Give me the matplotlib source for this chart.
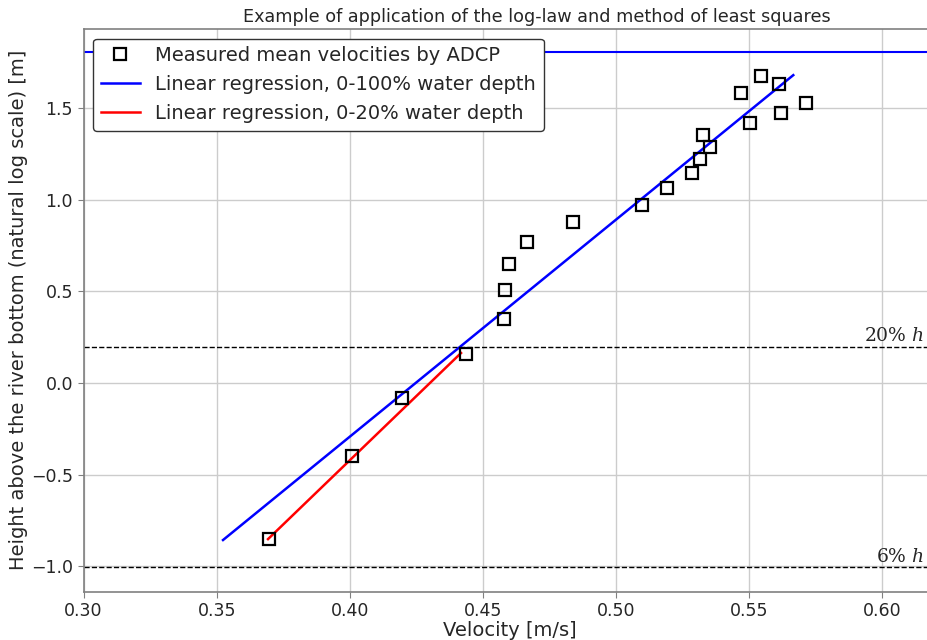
import numpy as np
import matplotlib
matplotlib.use("Agg")
import matplotlib.pyplot as plt

# Measured mean velocities (m/s) and ln(height above bottom)
velocity = [0.3697, 0.4009, 0.4197, 0.4437, 0.4580, 0.4584, 0.4599, 0.4664,
            0.4839, 0.5098, 0.5192, 0.5286, 0.5316, 0.5354, 0.5328, 0.5468,
            0.5504, 0.5544, 0.5613, 0.5620, 0.5714]
log_height = [-0.852, -0.398, -0.082, 0.158, 0.349, 0.508, 0.650, 0.770,
              0.879, 0.974, 1.064, 1.146, 1.223, 1.288, 1.354, 1.583,
              1.419, 1.677, 1.632, 1.474, 1.529]

# Regression lines (velocity, ln height) end points
fit_all_v = [0.3524, 0.5666]
fit_all_y = [-0.857, 1.681]
fit_20_v = [0.3693, 0.4418]
fit_20_y = [-0.852, 0.164]

water_depth = 6.09
surface_y = np.log(water_depth)
level_20 = np.log(0.20 * water_depth)
level_06 = np.log(0.06 * water_depth)

plt.rcParams['mathtext.fontset'] = 'dejavuserif'
txt = '#262626'

fig = plt.figure(figsize=(9.27, 6.4), dpi=100)
ax = fig.add_axes([0.0901, 0.0755, 0.919, 0.8795])

ax.plot(velocity, log_height, linestyle='none', marker='s', markersize=9,
        markerfacecolor='none', markeredgecolor='black', markeredgewidth=1.6,
        label='Measured mean velocities by ADCP', zorder=4)
ax.plot(fit_all_v, fit_all_y, color='blue', lw=1.8,
        label='Linear regression, 0-100% water depth', zorder=3)
ax.plot(fit_20_v, fit_20_y, color='red', lw=1.8,
        label='Linear regression, 0-20% water depth', zorder=3)

ax.axhline(surface_y, color='blue', lw=1.5, zorder=2)
ax.axhline(level_20, color='black', lw=1.0, ls='--', zorder=2)
ax.axhline(level_06, color='black', lw=1.0, ls='--', zorder=2)

ax.text(0.6157, level_20 + 0.01, r'20% $h$', ha='right', va='bottom',
        fontsize=13.5, family='DejaVu Serif', color=txt)
ax.text(0.6157, level_06 + 0.01, r'6% $h$', ha='right', va='bottom',
        fontsize=13.5, family='DejaVu Serif', color=txt)

ax.set_xlim(0.30, 0.62)
ax.set_ylim(-1.139, 1.934)
ax.set_xticks([0.30, 0.35, 0.40, 0.45, 0.50, 0.55, 0.60])
ax.set_yticks([-1.0, -0.5, 0.0, 0.5, 1.0, 1.5])
ax.grid(True, color='#cccccc', lw=1.0, zorder=0)
ax.set_axisbelow(True)

for s in ax.spines.values():
    s.set_color('#808080')
    s.set_linewidth(1.2)
ax.tick_params(labelsize=12.5, colors='#808080', labelcolor=txt, length=4)

ax.set_xlabel('Velocity [m/s]', fontsize=14, color=txt, labelpad=1)
ax.set_ylabel('Height above the river bottom (natural log scale) [m]',
              fontsize=14, color=txt, labelpad=2)
ax.set_title('Example of application of the log-law and method of least squares',
             fontsize=12.7, color=txt, x=0.532, pad=5)

leg = ax.legend(loc='upper left', fontsize=14, frameon=True, fancybox=True,
                edgecolor='#333333', framealpha=1, borderaxespad=0.5)
for t in leg.get_texts():
    t.set_color(txt)

fig.savefig('out.png', dpi=100)
